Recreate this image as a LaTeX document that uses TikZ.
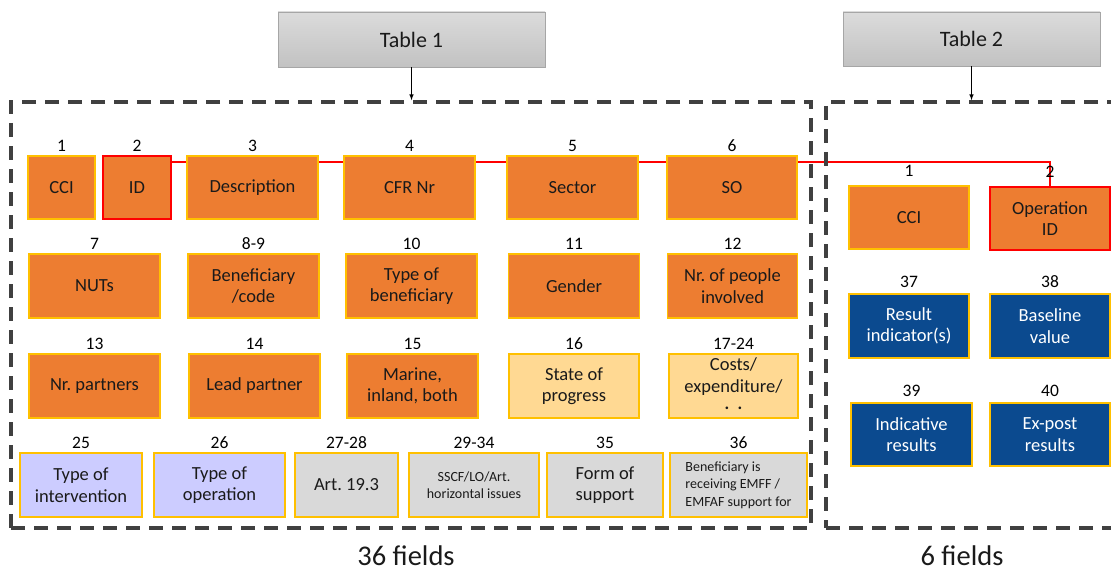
\documentclass[tikz,border=0pt]{standalone}
\usepackage{fontspec}
\setmainfont{Carlito}
\usetikzlibrary{backgrounds}
\frenchspacing

\definecolor{cellorange}{HTML}{ED7D31}
\definecolor{cellgold}{HTML}{FFC000}
\definecolor{celllight}{HTML}{FFD993}
\definecolor{celllilac}{HTML}{CCCCFF}
\definecolor{cellgray}{HTML}{D9D9D9}
\definecolor{cellblue}{HTML}{0B4A8F}
\definecolor{framegray}{HTML}{404040}
\definecolor{textdark}{HTML}{1A1A1A}
\definecolor{linkred}{HTML}{FF0000}

\begin{document}
\begin{tikzpicture}[
        x=1pt, y=-1pt, % координаты в пикселях
        sz/.style 2 args={minimum width=#1pt, minimum height=#2pt}, % размер ячейки
        cell/.style={draw=cellgold, line width=1.2pt, fill=cellorange, text=textdark,
                align=center, inner sep=1pt, font=\fontsize{18.5}{21.5}\selectfont}, % Стиль ячеек
        cellred/.style={cell, draw=linkred},
        celllight/.style={cell, fill=celllight},
        celllilac/.style={cell, fill=celllilac},
        cellgray/.style={cell, fill=cellgray},
        cellblue/.style={cell, fill=cellblue, text=white},
        small/.style={font=\fontsize{14}{17.5}\selectfont},
        num/.style={font=\fontsize{17.5}{20}\selectfont, inner sep=1pt, text=black}, % номера полей
        label distance=3pt,
        head/.style={draw=gray!70, line width=0.8pt, top color=gray!28, bottom color=gray!48,
                text=textdark, font=\fontsize{22}{26}\selectfont},
        frame/.style={draw=framegray, line width=3.5pt, dash pattern=on 14pt off 9pt},
        link/.style={draw=linkred, line width=2pt},
        total/.style={font=\fontsize{28.5}{33}\selectfont, text=textdark},
    ]

    \useasboundingbox (0,0) rectangle (1111,575);

    % заголовки таблиц
    \node[head, sz={267}{55}] (tab1) at (411.5,39.5) {Table 1};
    \node[head, sz={257}{54}] (tab2) at (971.5,39) {Table 2};

    % рамки
    \node[frame, sz={800}{426}] (frame1) at (411,315) {};
    \node[frame, sz={314}{426}] (frame2) at (983,315) {};

    \draw[-latex, line width=1pt] (tab1) -- (tab1 |- frame1.north);
    \draw[-latex, line width=1pt] (tab2) -- (tab2 |- frame2.north);

    % связь ID -> Operation ID
    \coordinate (idlink) at (171,162);

    % Table 1, ряд 1
    \node[cell, sz={67}{63}, label={[num]above:1}] (cci) at (61.5,187.5) {CCI};
    \node[cellred, sz={68}{63}, label={[num]above:2}] (id) at (137,187.5) {ID};
    \node[cell, sz={131}{63}, label={[num]above:3}] (descr) at (252.5,187.5) {Description};
    \node[cell, sz={131}{63}, label={[num]above:4}] (cfr) at (409.5,187.5) {CFR Nr};
    \node[cell, sz={131}{63}, label={[num]above:5}] (sector) at (572.5,187.5) {Sector};
    \node[cell, sz={130}{63}, label={[num]above:6}] (so) at (732,187.5) {SO};

    % ряд 2
    \node[cell, sz={131}{64}, label={[num]above:7}] (nuts) at (94.5,286) {NUTs};
    \node[cell, sz={131}{64}, label={[num]above:8-9}] (benef) at (253.5,286) {Beneficiary\\/code};
    \node[cell, sz={131}{64}, label={[num]above:10}] (typeben) at (411.5,286) {Type of\\beneficiary};
    \node[cell, sz={131}{64}, label={[num]above:11}] (gender) at (574,286) {Gender};
    \node[cell, sz={130}{64}, label={[num]above:12}] (people) at (732.5,286) {Nr. of people\\involved};

    % ряд 3
    \node[cell, sz={131}{64}, label={[num]above:13}] (partners) at (94.5,386) {Nr. partners};
    \node[cell, sz={131}{64}, label={[num]above:14}] (lead) at (254.5,386) {Lead partner};
    \node[cell, sz={131}{64}, label={[num]above:15}] (marine) at (412.5,386) {Marine,\\inland, both};
    \node[celllight, sz={130}{64}, label={[num]above:16}] (state) at (574,386) {State of\\progress};
    \node[celllight, sz={129}{64}, label={[num]above:17-24}] (costs) at (733.5,386)
        {Costs/\\expenditure/\\\textperiodcentered\ \ \textperiodcentered};

    % ряд 4
    \node[celllilac, sz={122}{64}, label={[num]above:25}] (interv) at (81,485) {Type of\\intervention};
    \node[celllilac, sz={131}{64}, label={[num]above:26}] (oper) at (219.5,485) {Type of\\operation};
    \node[cellgray, sz={103}{64}, label={[num]above:27-28}] (art) at (346.5,485) {Art. 19.3};
    \node[cellgray, small, sz={130}{64}, label={[num]above:29-34}] (sscf) at (474,485) {SSCF/LO/Art.\\horizontal issues};
    \node[cellgray, sz={116}{64}, label={[num]above:35}] (form) at (605,485) {Form of\\support};
    \node[cellgray, small, align=left, sz={137}{64}, label={[num]above:36}] (emff) at (738.5,485)
        {Beneficiary is\\receiving EMFF /\\EMFAF support for};

    % Table 2
    \node[cell, sz={120}{63}, label={[num, label distance=8pt]above:1}] (cci2) at (909,217.5) {CCI};
    \node[cellred, sz={120}{63}, label={[num, label distance=8pt]above:2}] (opid) at (1050,218.5) {Operation\\ID};
    \node[cellblue, sz={120}{64}, label={[num, label distance=5pt]above:37}] (result) at (909,326) {Result\\indicator(s)};
    \node[cellblue, sz={120}{64}, label={[num, label distance=5pt]above:38}] (base) at (1050,326) {Baseline\\value};
    \node[cellblue, sz={121}{63}, label={[num, label distance=5pt]above:39}] (indic) at (911.5,434.5) {Indicative\\results};
    \node[cellblue, sz={120}{63}, label={[num, label distance=5pt]above:40}] (expost) at (1050,434.5) {Ex-post\\results};

    \begin{scope}[on background layer]
        \draw[link] (id.east |- idlink) -| (opid.north);
    \end{scope}

    \node[total] (fields1) at (406,556) {36 fields};
    \node[total] (fields2) at (962,556) {6 fields};

\end{tikzpicture}
\end{document}
